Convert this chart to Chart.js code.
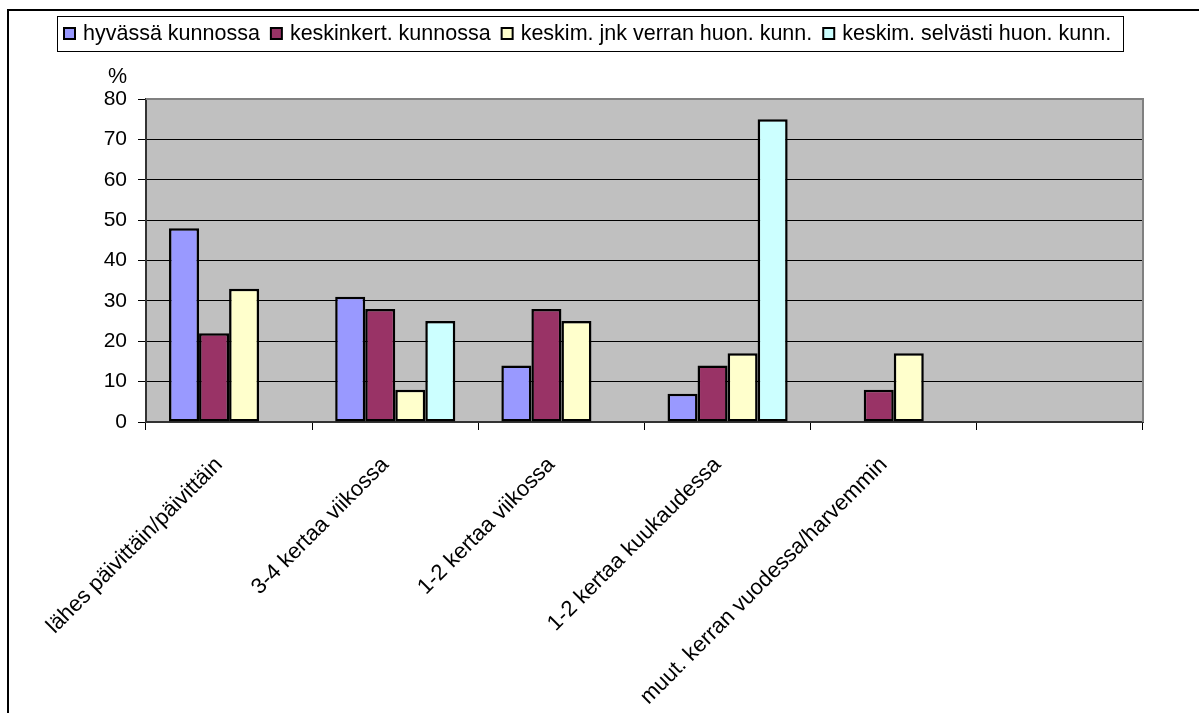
<!DOCTYPE html>
<html>
<head>
<meta charset="utf-8">
<title>Liikunta kunnon mukaan</title>
<script src="https://cdn.jsdelivr.net/npm/chart.js@4/dist/chart.umd.min.js"></script>
<style>
  html, body { margin: 0; padding: 0; background: #fff; }
  #wrap { position: relative; width: 1199px; height: 713px; overflow: hidden; }
</style>
</head>
<body>
<div id="wrap">
  <canvas id="kuntoChart" width="1199" height="713"></canvas>
</div>
<script>
// Kategoriat (liikunnan useus)
var kategoriat = [
  'lähes päivittäin/päivittäin',
  '3-4 kertaa viikossa',
  '1-2 kertaa viikossa',
  '1-2 kertaa kuukaudessa',
  'muut. kerran vuodessa/harvemmin',
  ''
];

// Sarjojen nimet ja värit
var sarjat = [
  'hyvässä kunnossa',
  'keskinkert. kunnossa',
  'keskim. jnk verran huon. kunn.',
  'keskim. selvästi huon. kunn.'
];
var varit = ['#9999FF', '#993366', '#FFFFCC', '#CCFFFF'];

// Prosenttiosuudet sarjoittain
var hyvassa = [48, 31, 14, 7, null, null];
var keskinkert = [22, 28, 28, 14, 8, null];
var jnkVerran = [33, 8, 25, 17, 17, null];
var selvasti = [null, 25, null, 75, null, null];

// Y-akselin asteikko
var yMin = 0;
var yMax = 80;
var yAskel = 10;

var fontti = "'Liberation Sans', Arial, sans-serif";

var arvot = [hyvassa, keskinkert, jnkVerran, selvasti];
var datasets = arvot.map(function (data, i) {
  return {
    label: sarjat[i],
    data: data,
    backgroundColor: varit[i],
    borderColor: '#000',
    borderWidth: 2.5,
    borderSkipped: false,
    categoryPercentage: 0.723,
    barPercentage: 1
  };
});

// Piirtoalueen harmaa tausta, reunat, kehys, selite ja %-merkki
var koristeet = {
  id: 'koristeet',
  beforeDraw: function (chart) {
    var ctx = chart.ctx;
    var a = chart.chartArea;
    ctx.save();
    ctx.fillStyle = '#C0C0C0';
    ctx.fillRect(a.left, a.top, a.right - a.left, a.bottom - a.top);
    ctx.restore();
  },
  afterDatasetsDraw: function (chart) {
    var ctx = chart.ctx;
    var a = chart.chartArea;
    ctx.save();
    ctx.strokeStyle = '#808080';
    ctx.lineWidth = 2;
    ctx.beginPath();
    ctx.moveTo(a.left, a.top);
    ctx.lineTo(a.right, a.top);
    ctx.lineTo(a.right, a.bottom);
    ctx.stroke();
    ctx.restore();
  },
  afterDraw: function (chart) {
    var ctx = chart.ctx;
    ctx.save();

    // ulkokehys (vasen ja ylä)
    ctx.strokeStyle = '#000';
    ctx.lineWidth = 2;
    ctx.beginPath();
    ctx.moveTo(8, 713);
    ctx.lineTo(8, 10);
    ctx.lineTo(1199, 10);
    ctx.stroke();

    // selitelaatikko
    ctx.lineWidth = 1;
    ctx.strokeStyle = '#000';
    ctx.fillStyle = '#fff';
    ctx.fillRect(57, 16, 1066, 35);
    ctx.strokeRect(57.5, 16.5, 1066, 35);

    ctx.font = '21.5px ' + fontti;
    ctx.textBaseline = 'middle';
    ctx.textAlign = 'left';
    var x = 64;
    var yKeski = 34;
    sarjat.forEach(function (nimi, i) {
      ctx.fillStyle = varit[i];
      ctx.fillRect(x, yKeski - 6, 11, 11);
      ctx.lineWidth = 2;
      ctx.strokeStyle = '#000';
      ctx.strokeRect(x, yKeski - 6, 11, 11);
      ctx.fillStyle = '#000';
      ctx.fillText(nimi, x + 19, yKeski);
      x += 19 + ctx.measureText(nimi).width + 11;
    });

    // yksikkö y-akselin yläpuolella
    ctx.textAlign = 'right';
    ctx.fillText('%', 127, 77);
    ctx.restore();
  }
};

new Chart(document.getElementById('kuntoChart').getContext('2d'), {
  type: 'bar',
  data: {
    labels: kategoriat,
    datasets: datasets
  },
  options: {
    responsive: false,
    animation: false,
    layout: {
      padding: { left: 0, top: 99, right: 56, bottom: 0 }
    },
    plugins: {
      legend: { display: false },
      tooltip: { enabled: false }
    },
    scales: {
      x: {
        afterFit: function (scale) { scale.height = 291; },
        grid: {
          display: true,
          drawOnChartArea: false,
          drawTicks: true,
          tickLength: 8,
          offset: true,
          color: '#000'
        },
        border: { display: true, color: '#333', width: 2 },
        ticks: {
          autoSkip: false,
          maxRotation: 45,
          minRotation: 45,
          padding: 22,
          labelOffset: -10,
          color: '#000',
          font: { family: fontti, size: 22 }
        }
      },
      y: {
        min: yMin,
        max: yMax,
        afterFit: function (scale) { scale.width = 146; },
        grid: {
          color: function (c) {
            return c.tick && c.tick.value === yMax ? '#808080' : '#000';
          },
          tickColor: '#000',
          tickLength: 8,
          lineWidth: 1
        },
        border: { display: true, color: '#333', width: 2 },
        ticks: {
          stepSize: yAskel,
          padding: 11,
          color: '#000',
          font: { family: fontti, size: 21 }
        }
      }
    }
  },
  plugins: [koristeet]
});
</script>
</body>
</html>
